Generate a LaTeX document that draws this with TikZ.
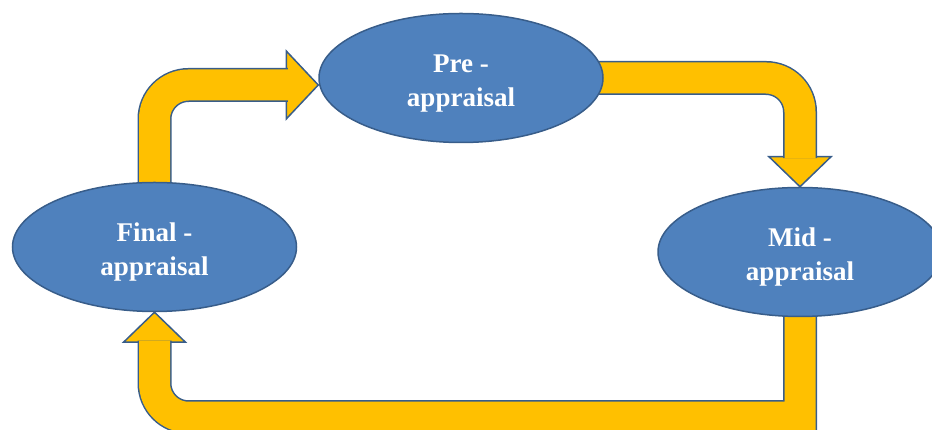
\documentclass[tikz,border=0pt]{standalone}
\usepackage{fontspec}
\setmainfont{Liberation Serif}
\usetikzlibrary{shapes.geometric,backgrounds}
\definecolor{ovalblue}{HTML}{4F81BD}
\definecolor{ovalline}{HTML}{385D8A}
\definecolor{arrowgold}{HTML}{FFC000}
\newcommand{\padtop}{\rule{0pt}{28pt}}

\begin{document}
\begin{tikzpicture}[x=1pt, y=1pt, main/.style = {draw=ovalline, line width=1.5pt, fill=ovalblue, ellipse, minimum width=284pt, minimum height=129pt, text=white, align=center, font=\bfseries\fontsize{27}{34}\selectfont}, band/.style = {draw=ovalline, line width=1.5pt, double=arrowgold, double distance=31pt, rounded corners=34}, headshape/.style = {draw=ovalline, line width=1.5pt, fill=arrowgold}]
		\useasboundingbox (0,0) rectangle (932,430);
		\clip (0,0) rectangle (932,430);
		\node[main] (pre) at (461,352) {\padtop Pre -\\appraisal};
		\node[main] (final) at (154.5,183) {\padtop Final -\\appraisal};
		\node[main] (mid) at (800,178) {\padtop Mid -\\appraisal};
		\begin{scope}[on background layer]
		% heads
		\draw[headshape] ([yshift=-7]pre.west) -- ++(-32,34) -- ++(0,-68) -- cycle;
		\draw[headshape] (mid.north) -- ++(-31,30) -- ++(62,0) -- cycle;
		\draw[headshape] (final.south) -- ++(-31,-30) -- ++(62,0) -- cycle;
		% shafts
		\draw[band] (final.center) |- ([xshift=-30.5,yshift=-7]pre.west);
		\draw[band] (pre.center) -| ([yshift=28.5]mid.north);
		\draw[band, sharp corners] (mid.center) |- ([xshift=100,yshift=-105]final.south) [rounded corners=34] -- ([yshift=-105]final.south) -- ([yshift=-28.5]final.south);
		\end{scope}
	\end{tikzpicture}
\end{document}
